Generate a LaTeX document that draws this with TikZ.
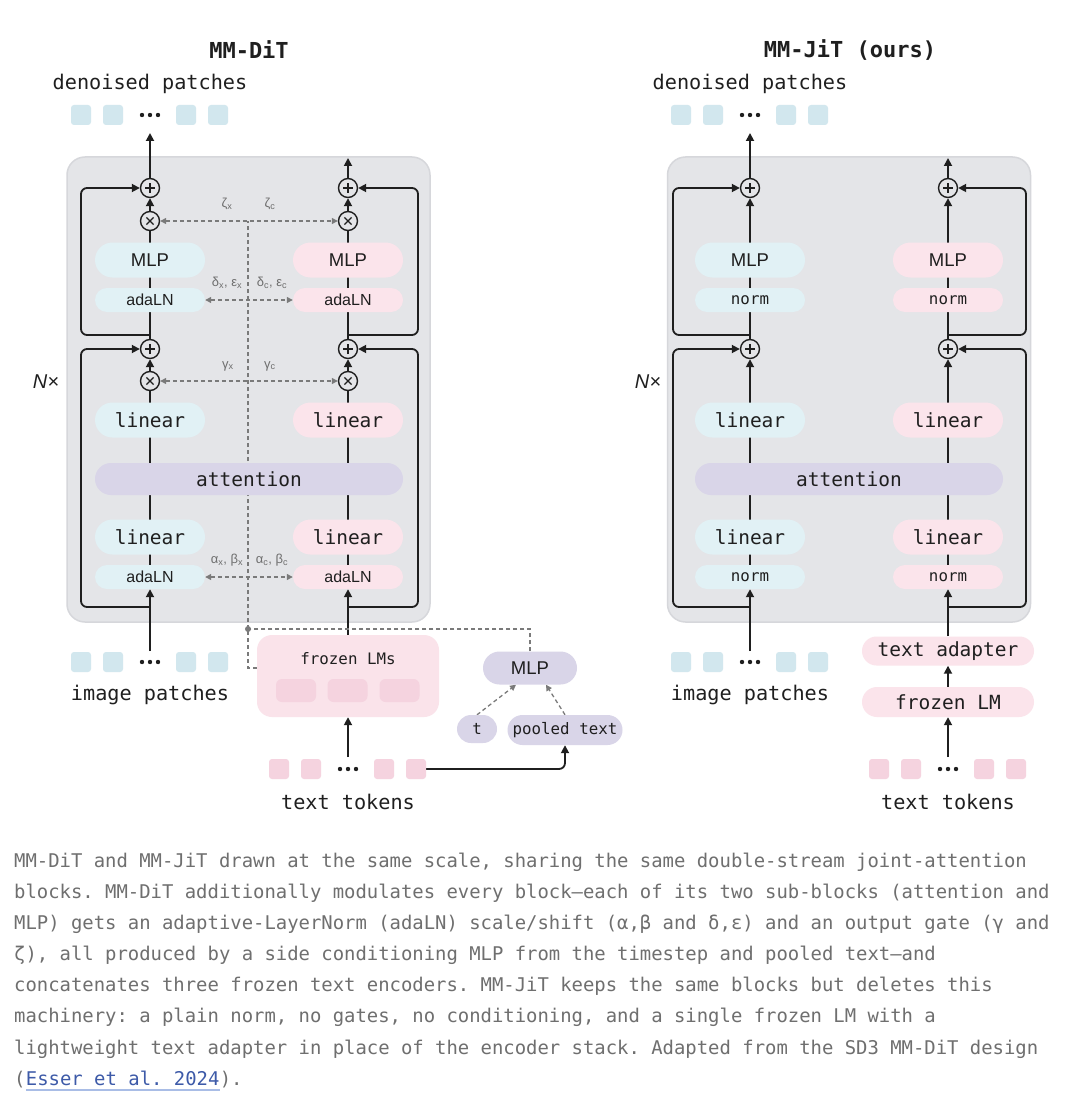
\documentclass[tikz,border=0pt]{standalone}
\usepackage{fontspec}
\setmainfont{Liberation Sans}
\setsansfont{Liberation Sans}
\setmonofont{DejaVu Sans Mono}
\usetikzlibrary{arrows.meta,calc}
\definecolor{ink}{HTML}{1F1F1F}
\definecolor{blockc}{HTML}{E4E5E8}
\definecolor{blockb}{HTML}{D6D7DB}
\definecolor{pillb}{HTML}{E1F1F5}
\definecolor{pillp}{HTML}{FBE4EB}
\definecolor{lav}{HTML}{D9D5E8}
\definecolor{patchb}{HTML}{D2E7EE}
\definecolor{patchp}{HTML}{F5D3DF}
\definecolor{frozc}{HTML}{FAE3EA}
\definecolor{dashc}{HTML}{7A7A7A}
\definecolor{greekc}{HTML}{6E6E6E}
\definecolor{capc}{HTML}{6F6F6F}
\definecolor{linkc}{HTML}{3D5AA8}
\definecolor{linku}{HTML}{A9BDE6}
\pgfdeclarelayer{bgwhite}
\pgfdeclarelayer{back}
\pgfdeclarelayer{lines}
\pgfsetlayers{bgwhite,back,lines,main}
\tikzset{
  ln/.style={draw=ink, line width=1.8pt},
  arr/.style={-{Triangle[length=8pt,width=8pt]}},
  dsh/.style={draw=dashc, line width=1.3pt, dash pattern=on 4pt off 3pt},
  darr/.style={-{Triangle[length=6pt,width=6pt]}},
  dbarr/.style={{Triangle[length=6pt,width=6pt]}-{Triangle[length=6pt,width=6pt]}},
  blockst/.style={fill=blockc, draw=blockb, line width=1.5pt, rounded corners=18pt, minimum width=363pt, minimum height=465pt, inner sep=0},
  monob/.style={font=\ttfamily\fontsize{19.5}{22}\selectfont},
  monos/.style={font=\ttfamily\fontsize{15.8}{18}\selectfont},
  sansm/.style={font=\sffamily\fontsize{18.5}{21}\selectfont},
  sanss/.style={font=\sffamily\fontsize{16}{18}\selectfont},
  bigpill/.style={minimum width=110pt, minimum height=35pt, rounded corners=17.5pt, inner sep=0, text=ink},
  smpill/.style={minimum width=110pt, minimum height=24pt, rounded corners=12pt, inner sep=0, text=ink},
  attpill/.style={fill=lav, minimum width=308pt, minimum height=32pt, rounded corners=16pt, inner sep=0, text=ink, monob},
  opc/.style={circle, draw=ink, line width=1.4pt, fill=blockc, minimum size=19pt, inner sep=0},
  plusop/.style={opc, path picture={
      \draw[ink, line width=1.3pt] ([xshift=-5pt]path picture bounding box.center) -- ([xshift=5pt]path picture bounding box.center);
      \draw[ink, line width=1.3pt] ([yshift=-5pt]path picture bounding box.center) -- ([yshift=5pt]path picture bounding box.center);}},
  timesop/.style={opc, path picture={
      \draw[ink, line width=1.3pt] ([shift={(-3.6pt,-3.6pt)}]path picture bounding box.center) -- ([shift={(3.6pt,3.6pt)}]path picture bounding box.center);
      \draw[ink, line width=1.3pt] ([shift={(-3.6pt,3.6pt)}]path picture bounding box.center) -- ([shift={(3.6pt,-3.6pt)}]path picture bounding box.center);}},
  patB/.style={fill=patchb, minimum size=20pt, rounded corners=3pt, inner sep=0},
  patP/.style={fill=patchp, minimum size=20pt, rounded corners=3pt, inner sep=0},
  labf/.style={text=ink, inner sep=0, font=\ttfamily\fontsize{20.2}{23}\selectfont},
  titlef/.style={text=ink, inner sep=0, font=\ttfamily\bfseries\fontsize{22}{25}\selectfont},
  greek/.style={text=greekc, inner sep=0, font=\sffamily\fontsize{13}{15}\selectfont},
  nxf/.style={text=ink, inner sep=0, font=\sffamily\itshape\fontsize{20}{23}\selectfont},
  condpill/.style={fill=lav, inner sep=0, text=ink},
  caption/.style={text=capc, inner sep=0, anchor=base west, font=\ttfamily\fontsize{18.9}{22}\selectfont},
}
\newcommand{\sbx}{\textsubscript{x}}
\newcommand{\sbc}{\textsubscript{c}}
\begin{document}
\begin{tikzpicture}[x=1pt,y=-1pt]
\useasboundingbox (0,0) rectangle (1080,1102);
\begin{pgfonlayer}{bgwhite}
\fill[white] (0,0) rectangle (1080,1102);
\end{pgfonlayer}

% =================== MM-DiT (left) ===================
\node[titlef] (titleL) at (249,50) {MM-DiT};
\node[labf] (denL) at (150,84) {denoised patches};
\node[patB] (oL1) at (81,115) {};
\node[patB] (oL2) at (113,115) {};
\node[patB] (oL4) at (186,115) {};
\node[patB] (oL5) at (218,115) {};
\foreach \x in {142,150,158} \fill[ink] (\x,115) circle (2.2pt);
\coordinate (outX) at (150,133);
\coordinate (outC) at (348,158);

\begin{pgfonlayer}{back}
\node[blockst] (blkL) at (248.5,389.5) {};
\end{pgfonlayer}

\node[nxf] (nxL) at (46,382) {N×};

% operators
\node[plusop] (p1X) at (150,188) {};
\node[timesop] (t1X) at (150,221) {};
\node[plusop] (p2X) at (150,349) {};
\node[timesop] (t2X) at (150,381) {};
\node[plusop] (p1C) at (348,188) {};
\node[timesop] (t1C) at (348,221) {};
\node[plusop] (p2C) at (348,349) {};
\node[timesop] (t2C) at (348,381) {};

% pills
\node[bigpill, fill=pillb, sansm] (mlpX) at (150,260) {MLP};
\node[smpill, fill=pillb, sanss] (ada1X) at (150,300) {adaLN};
\node[bigpill, fill=pillb, monob] (lin1X) at (150,420) {linear};
\node[bigpill, fill=pillb, monob] (lin2X) at (150,537) {linear};
\node[smpill, fill=pillb, sanss] (ada2X) at (150,577) {adaLN};
\node[bigpill, fill=pillp, sansm] (mlpC) at (348,260) {MLP};
\node[smpill, fill=pillp, sanss] (ada1C) at (348,300) {adaLN};
\node[bigpill, fill=pillp, monob] (lin1C) at (348,420) {linear};
\node[bigpill, fill=pillp, monob] (lin2C) at (348,537) {linear};
\node[smpill, fill=pillp, sanss] (ada2C) at (348,577) {adaLN};
\node[attpill] (attL) at (249,479) {attention};

% greek labels
\node[greek] (zx) at (227,204) {ζ\sbx};
\node[greek] (zc) at (270,204) {ζ\sbc};
\node[greek] (dx) at (227,283) {δ\sbx, ε\sbx};
\node[greek] (dc) at (272,283) {δ\sbc, ε\sbc};
\node[greek] (gx) at (228,366) {γ\sbx};
\node[greek] (gc) at (270,366) {γ\sbc};
\node[greek] (ax) at (227,560) {α\sbx, β\sbx};
\node[greek] (ac) at (272,560) {α\sbc, β\sbc};

% inputs
\node[patB] (iL1) at (81,662) {};
\node[patB] (iL2) at (113,662) {};
\node[patB] (iL4) at (186,662) {};
\node[patB] (iL5) at (218,662) {};
\foreach \x in {142,150,158} \fill[ink] (\x,662) circle (2.2pt);
\coordinate (inX) at (150,651);
\node[labf] (imgL) at (150,695) {image patches};

\node[fill=frozc, rounded corners=15pt, minimum width=182pt, minimum height=82pt, inner sep=0] (frozen) at (348,676) {};
\node[text=ink, inner sep=0, font=\ttfamily\fontsize{15.8}{18}\selectfont] (fzlab) at (348,659) {frozen LMs};
\node[fill=patchp, minimum width=40pt, minimum height=23pt, rounded corners=6pt, inner sep=0] (enc1) at (296,690.5) {};
\node[fill=patchp, minimum width=40pt, minimum height=23pt, rounded corners=6pt, inner sep=0] (enc2) at (347.5,690.5) {};
\node[fill=patchp, minimum width=40pt, minimum height=23pt, rounded corners=6pt, inner sep=0] (enc3) at (399.5,690.5) {};
\coordinate (fzin) at ($(frozen.west)+(0,-8)$);

\node[condpill, sansm, minimum width=94pt, minimum height=33pt, rounded corners=16.5pt] (cmlp) at (530,668) {MLP};
\node[condpill, monos, minimum width=40pt, minimum height=28pt, rounded corners=14pt] (tnode) at (477,729) {t};
\node[condpill, monos, minimum width=115pt, minimum height=30pt, rounded corners=15pt] (pooled) at (565,730) {pooled text};

\node[patP] (tk1) at (279,769) {};
\node[patP] (tk2) at (311,769) {};
\node[patP] (tk4) at (384,769) {};
\node[patP] (tk5) at (416,769) {};
\foreach \x in {340,348,356} \fill[ink] (\x,769) circle (2.2pt);
\coordinate (tokD) at (348,757);
\node[labf] (tokL) at (348,802) {text tokens};

\coordinate (dot) at (248,629);

\begin{pgfonlayer}{lines}
% image stream
\draw[ln,arr] (inX) -- (ada2X.south);
\draw[ln] (ada2X.center) -- (t2X.south);
\draw[ln,arr] (t2X.north) -- (p2X.south);
\draw[ln] (p2X.north) -- (t1X.south);
\draw[ln,arr] (t1X.north) -- (p1X.south);
\draw[ln,arr] (p1X.north) -- (outX);
\coordinate (j1X) at (150,335);
\coordinate (j2X) at (150,607);
\draw[ln,arr,rounded corners=6pt] (j1X) -- (81,335) |- (p1X.west);
\draw[ln,arr,rounded corners=6pt] (j2X) -- (81,607) |- (p2X.west);
% text stream
\draw[ln,arr] (frozen.north) -- (ada2C.south);
\draw[ln] (ada2C.center) -- (t2C.south);
\draw[ln,arr] (t2C.north) -- (p2C.south);
\draw[ln] (p2C.north) -- (t1C.south);
\draw[ln,arr] (t1C.north) -- (p1C.south);
\draw[ln,arr] (p1C.north) -- (outC);
\coordinate (j1C) at (348,335);
\coordinate (j2C) at (348,607);
\draw[ln,arr,rounded corners=6pt] (j1C) -- (418,335) |- (p1C.east);
\draw[ln,arr,rounded corners=6pt] (j2C) -- (418,607) |- (p2C.east);
% inputs
\draw[ln,arr] (tokD) -- (frozen.south);
\draw[ln,arr,rounded corners=6pt] (tk5.east) -| (pooled.south);
% conditioning (dashed)
\draw[dsh] (dot) -- (dot |- t1X);
\draw[dsh,dbarr] (t1X.east) -- (t1C.west);
\draw[dsh,dbarr] (ada1X.east) -- (ada1C.west);
\draw[dsh,dbarr] (t2X.east) -- (t2C.west);
\draw[dsh,dbarr] (ada2X.east) -- (ada2C.west);
\draw[dsh] (cmlp.north) |- (dot);
\draw[dsh] (fzin) -| (dot);
\draw[dsh,darr] (tnode.north) -- ($(cmlp.south)+(-14,0)$);
\draw[dsh,darr] (pooled.north) -- ($(cmlp.south)+(16,0)$);
\fill[dashc] (dot) circle (3pt);
\end{pgfonlayer}

% =================== MM-JiT (right) ===================
\node[titlef] (titleR) at (850,50) {MM-JiT (ours)};
\node[labf] (denR) at (750,84) {denoised patches};
\node[patB] (oR1) at (681,115) {};
\node[patB] (oR2) at (713,115) {};
\node[patB] (oR4) at (786,115) {};
\node[patB] (oR5) at (818,115) {};
\foreach \x in {742,750,758} \fill[ink] (\x,115) circle (2.2pt);
\coordinate (outJX) at (750,133);
\coordinate (outJC) at (948,158);

\begin{pgfonlayer}{back}
\node[blockst] (blkR) at (849,389.5) {};
\end{pgfonlayer}

\node[nxf] (nxR) at (648,382) {N×};

\node[plusop] (q1X) at (750,188) {};
\node[plusop] (q2X) at (750,349) {};
\node[plusop] (q1C) at (948,188) {};
\node[plusop] (q2C) at (948,349) {};

\node[bigpill, fill=pillb, sansm] (jmlpX) at (750,260) {MLP};
\node[smpill, fill=pillb, monos] (jn1X) at (750,300) {norm};
\node[bigpill, fill=pillb, monob] (jl1X) at (750,420) {linear};
\node[bigpill, fill=pillb, monob] (jl2X) at (750,537) {linear};
\node[smpill, fill=pillb, monos] (jn2X) at (750,577) {norm};
\node[bigpill, fill=pillp, sansm] (jmlpC) at (948,260) {MLP};
\node[smpill, fill=pillp, monos] (jn1C) at (948,300) {norm};
\node[bigpill, fill=pillp, monob] (jl1C) at (948,420) {linear};
\node[bigpill, fill=pillp, monob] (jl2C) at (948,537) {linear};
\node[smpill, fill=pillp, monos] (jn2C) at (948,577) {norm};
\node[attpill] (attR) at (849,479) {attention};

\node[patB] (iR1) at (681,662) {};
\node[patB] (iR2) at (713,662) {};
\node[patB] (iR4) at (786,662) {};
\node[patB] (iR5) at (818,662) {};
\foreach \x in {742,750,758} \fill[ink] (\x,662) circle (2.2pt);
\coordinate (inJX) at (750,651);
\node[labf] (imgR) at (750,695) {image patches};

\node[fill=pillp, minimum width=172pt, minimum height=29pt, rounded corners=14.5pt, inner sep=0, text=ink, monob] (adapter) at (948,651) {text adapter};
\node[fill=pillp, minimum width=172pt, minimum height=30pt, rounded corners=15pt, inner sep=0, text=ink, monob] (flm) at (948,702) {frozen LM};

\node[patP] (uk1) at (879,769) {};
\node[patP] (uk2) at (911,769) {};
\node[patP] (uk4) at (984,769) {};
\node[patP] (uk5) at (1016,769) {};
\foreach \x in {940,948,956} \fill[ink] (\x,769) circle (2.2pt);
\coordinate (tokJ) at (948,757);
\node[labf] (tokR) at (948,802) {text tokens};

\begin{pgfonlayer}{lines}
\draw[ln,arr] (inJX) -- (jn2X.south);
\draw[ln,arr] (jn2X.center) -- (q2X.south);
\draw[ln,arr] (q2X.north) -- (q1X.south);
\draw[ln,arr] (q1X.north) -- (outJX);
\coordinate (k1X) at (750,335);
\coordinate (k2X) at (750,607);
\draw[ln,arr,rounded corners=6pt] (k1X) -- (673,335) |- (q1X.west);
\draw[ln,arr,rounded corners=6pt] (k2X) -- (673,607) |- (q2X.west);
\draw[ln,arr] (adapter.north) -- (jn2C.south);
\draw[ln,arr] (jn2C.center) -- (q2C.south);
\draw[ln,arr] (q2C.north) -- (q1C.south);
\draw[ln,arr] (q1C.north) -- (outJC);
\coordinate (k1C) at (948,335);
\coordinate (k2C) at (948,607);
\draw[ln,arr,rounded corners=6pt] (k1C) -- (1026,335) |- (q1C.east);
\draw[ln,arr,rounded corners=6pt] (k2C) -- (1026,607) |- (q2C.east);
\draw[ln,arr] (flm.north) -- (adapter.south);
\draw[ln,arr] (tokJ) -- (flm.south);
\end{pgfonlayer}

% =================== caption ===================
\node[caption] (c1) at (14,867) {MM-DiT and MM-JiT drawn at the same scale, sharing the same double-stream joint-attention};
\node[caption] (c2) at (14,898) {blocks. MM-DiT additionally modulates every block—each of its two sub-blocks (attention and};
\node[caption] (c3) at (14,929) {MLP) gets an adaptive-LayerNorm (adaLN) scale/shift (α,β and δ,ε) and an output gate (γ and};
\node[caption] (c4) at (14,960) {ζ), all produced by a side conditioning MLP from the timestep and pooled text—and};
\node[caption] (c5) at (14,991) {concatenates three frozen text encoders. MM-JiT keeps the same blocks but deletes this};
\node[caption] (c6) at (14,1022) {machinery: a plain norm, no gates, no conditioning, and a single frozen LM with a};
\node[caption] (c7) at (14,1054) {lightweight text adapter in place of the encoder stack. Adapted from the SD3 MM-DiT design};
\node[caption] (c8a) at (14,1085) {(};
\node[caption, text=linkc] (c8b) at (c8a.base east) {Esser et al. 2024};
\node[caption] (c8c) at (c8b.base east) {).};
\draw[linku, line width=1.2pt] ($(c8b.base west)+(0,5)$) -- ($(c8b.base east)+(0,5)$);
\end{tikzpicture}
\end{document}
